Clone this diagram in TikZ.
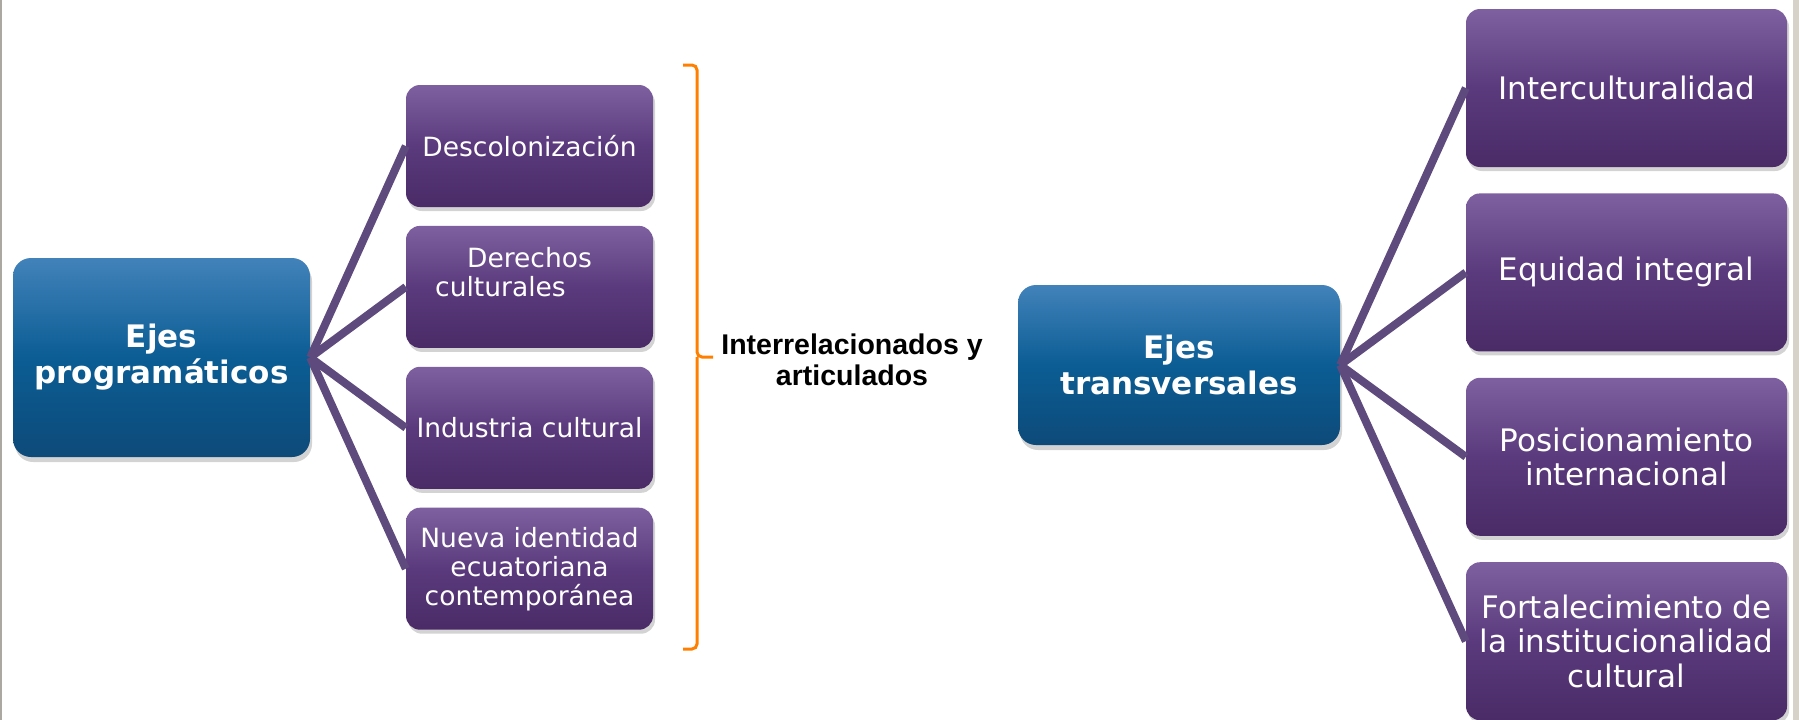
\documentclass[tikz,border=0pt]{standalone}
\usepackage{fontspec}
\setmainfont{DejaVu Sans}
\newfontfamily\midfont{Liberation Sans}
\usetikzlibrary{positioning,shadows}
\definecolor{ejetop}{HTML}{4282BA}
\definecolor{ejemid}{HTML}{0B5D94}
\definecolor{ejebot}{HTML}{0D4A79}
\definecolor{itemtop}{HTML}{7E60A0}
\definecolor{itemmid}{HTML}{5A3A7C}
\definecolor{itembot}{HTML}{4A2B67}
\definecolor{linkpurple}{HTML}{5E4A7C}
\definecolor{braceorange}{HTML}{FF8000}
\definecolor{framegray}{HTML}{D6D2CA}
\begin{document}
\begin{tikzpicture}[x=1pt,y=-1pt,eje/.style={rectangle, rounded corners=18pt, top color=ejetop, bottom color=ejebot, middle color=ejemid, text=white, align=center, inner sep=0pt, font=\fontsize{31}{36}\selectfont\bfseries, drop shadow={opacity=0.35, shadow xshift=2pt, shadow yshift=-5pt}},itemL/.style={rectangle, rounded corners=14pt, top color=itemtop, bottom color=itembot, middle color=itemmid, text=white, align=center, inner sep=0pt, minimum width=247pt, minimum height=122pt, font=\fontsize{26.5}{29}\selectfont, drop shadow={opacity=0.35, shadow xshift=2pt, shadow yshift=-4pt}},itemR/.style={itemL, minimum width=321pt, minimum height=158pt, font=\fontsize{31}{34.5}\selectfont},link/.style={draw=linkpurple, line width=8pt},bracket/.style={draw=braceorange, line width=3pt, rounded corners=5pt},]
                    \useasboundingbox (0,0) rectangle (1799,720);
                    \fill[framegray] (1793,0) rectangle (1799,720);
                    \draw[framegray!80!black, line width=2pt] (1,0) -- (1,720);
                    % ejes programaticos
                    \node[eje, minimum width=297pt, minimum height=199pt] (prog) at (161.5,357.5) {Ejes\\programáticos};
                    \node[itemL] (desc) at (529.5,146) {Descolonización};
                    \node[itemL, below=18.5pt of desc] (derechos) {Derechos\\culturales\hspace*{58pt}\mbox{}\\\mbox{}};
                    \node[itemL, below=18.5pt of derechos] (industria) {Industria cultural};
                    \node[itemL, below=18.5pt of industria] (nueva) {Nueva identidad\\ecuatoriana\\contemporánea};
                    \foreach \c in {desc,derechos,industria,nueva}
                        \draw[link] (prog.east) -- (\c.west);
                    % llave
                    \coordinate (btop) at (683,65);
                    \coordinate (bmid) at (697,357);
                    \coordinate (bbot) at (683,649);
                    \draw[bracket] (btop) -| (bmid) -- ++(16,0);
                    \draw[bracket] (bbot) -| (bmid);
                    \node[font=\midfont\fontsize{28.5}{31}\selectfont\bfseries, align=center] (rel) at (852,360) {Interrelacionados y\\articulados};
                    % ejes transversales
                    \node[eje, minimum width=322pt, minimum height=160pt] (trans) at (1179,365) {Ejes\\transversales};
                    \node[itemR] (intercult) at (1626.5,88) {Interculturalidad};
                    \node[itemR, below=26pt of intercult] (equidad) {Equidad integral};
                    \node[itemR, below=26pt of equidad] (posic) {Posicionamiento\\internacional};
                    \node[itemR, below=26pt of posic] (fortal) {Fortalecimiento de\\la institucionalidad\\cultural};
                    \foreach \c in {intercult,equidad,posic,fortal}
                        \draw[link] (trans.east) -- (\c.west);
                \end{tikzpicture}
\end{document}
